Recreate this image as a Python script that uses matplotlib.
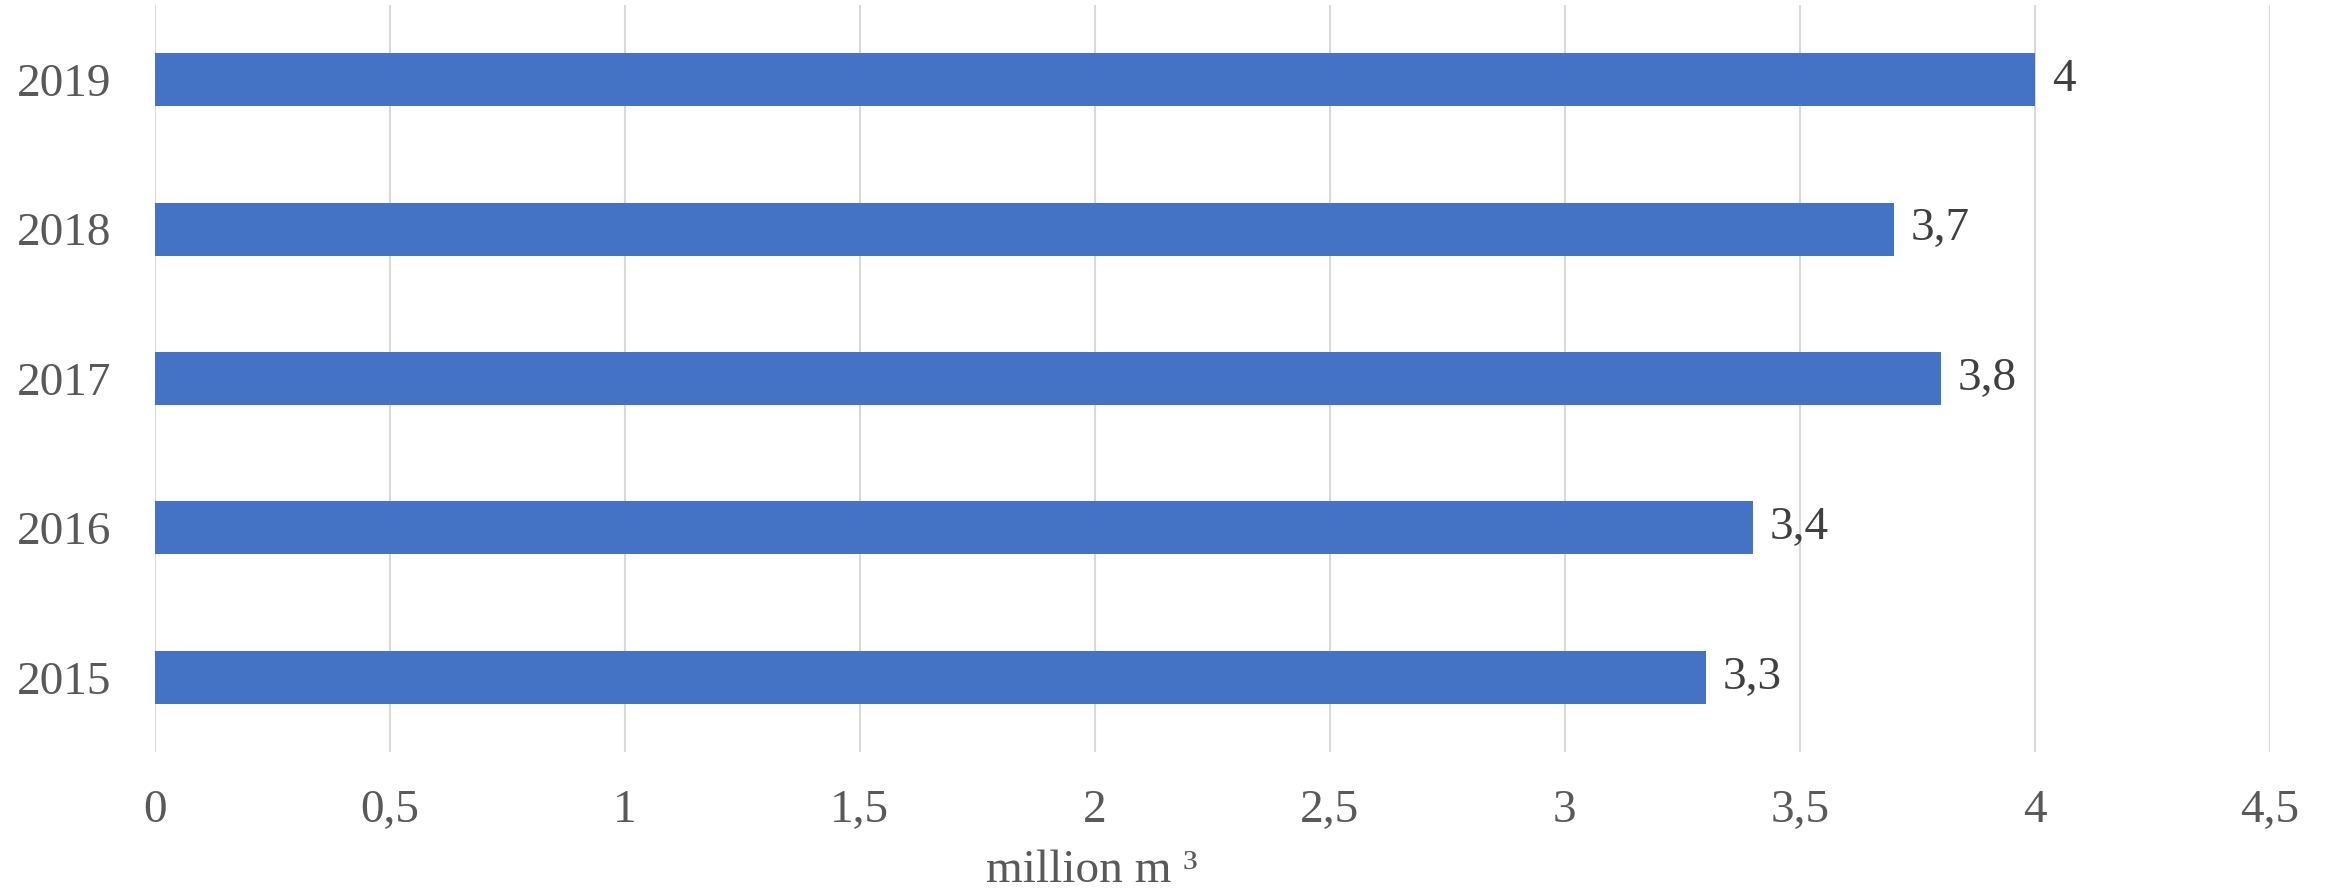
import matplotlib.pyplot as plt

# Values
years = ['2015', '2016', '2017', '2018', '2019']
volume = [3.3, 3.4, 3.8, 3.7, 4.0]
x_ticks = [0, 0.5, 1, 1.5, 2, 2.5, 3, 3.5, 4, 4.5]

plt.rcParams['font.family'] = ['Liberation Serif', 'DejaVu Serif']

fig = plt.figure(figsize=(23.28, 8.90), dpi=100)
ax = fig.add_axes([0.0664, 0.155, 0.9087, 0.8394])

bars = ax.barh(years, volume, height=0.355, color='#4472C4', zorder=3)

labels = [f'{v:g}'.replace('.', ',') for v in volume]
ax.bar_label(bars, labels=labels, padding=12, fontsize=34, color='#404040')

ax.set_xlim(0, 4.5)
ax.set_ylim(-0.5, 4.5)
ax.set_xticks(x_ticks)
ax.set_xticklabels([f'{t:g}'.replace('.', ',') for t in x_ticks])
ax.tick_params(axis='x', length=0, pad=27, labelsize=34, labelcolor='#595959')
ax.tick_params(axis='y', length=0, pad=31, labelsize=34, labelcolor='#595959')

ax.grid(axis='x', color='#d9d9d9', linewidth=1.5, zorder=0)
for s in ax.spines.values():
    s.set_visible(False)

fig.text(1092 / 2328, 8 / 890, 'million m ³', ha='center', va='baseline',
         fontsize=34, color='#595959')

fig.savefig('out.png', dpi=100)
